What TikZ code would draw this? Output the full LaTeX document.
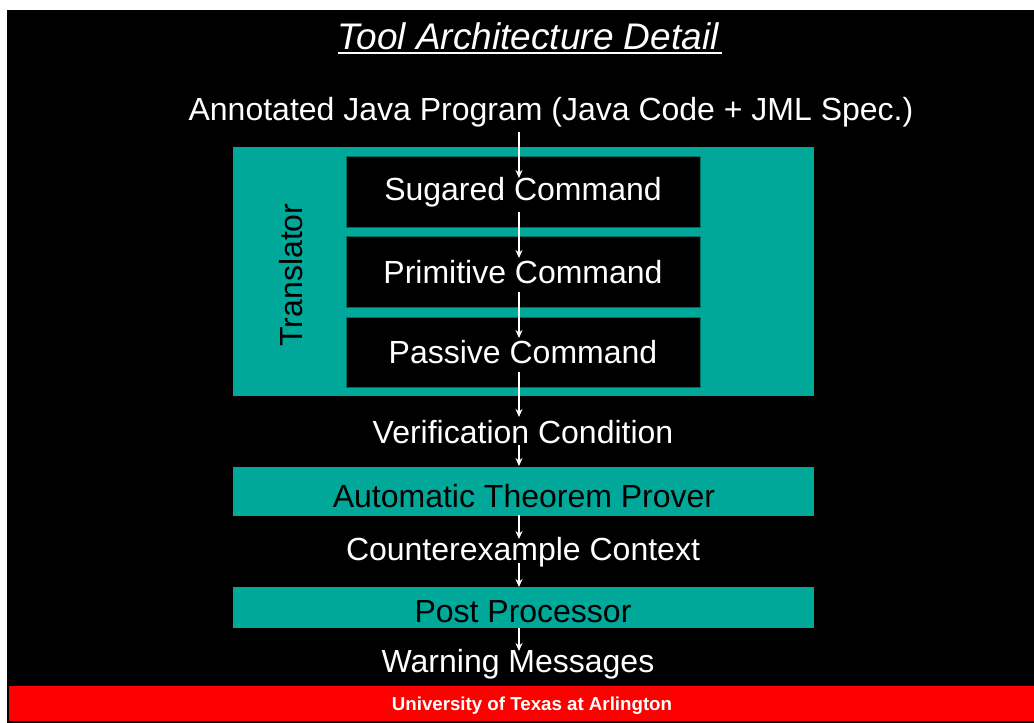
\documentclass[tikz,border=0pt]{standalone}
\usepackage{fontspec}
\setmainfont{Liberation Sans}
\usetikzlibrary{arrows.meta}
\definecolor{tealfill}{RGB}{0,168,154}
\definecolor{tealedge}{RGB}{0,110,100}
\definecolor{barred}{RGB}{255,0,0}
\begin{document}
\begin{tikzpicture}[x=1pt,y=-1pt,
  wtext/.style={text=white,font=\fontsize{32}{36}\selectfont,inner sep=0pt},
  btext/.style={text=black,font=\fontsize{32}{36}\selectfont,inner sep=0pt},
  panel/.style={fill=tealfill,draw=none},
  cmdbox/.style={fill=black,draw=tealedge,line width=0.8pt},
  flow/.style={draw=white,line width=1.2pt,-{Stealth[length=8pt,width=7pt]}}]
  % page and background
  \path[fill=white] (0,0) rectangle (1034,723);
  \useasboundingbox (0,0) rectangle (1034,723);
  \path[fill=black] (7,10) rectangle (1034,723);
  \path[fill=barred] (9,686) rectangle (1034,721);

  % title
  \node[text=white,font=\fontsize{37}{40}\selectfont\itshape,inner sep=0pt] (title) at (528,36) {Tool Architecture Detail};
  \draw[white,line width=2pt] (338,53) -- (722,53);

  \node[wtext] (annot) at (551,112) {Annotated Java Program (Java Code + JML Spec.)};

  % translator panel with the three command stages
  \path[panel] (233,147) rectangle (814,396);
  \node[btext,rotate=90] (transl) at (291,275) {Translator};
  \path[cmdbox] (346,156) rectangle (700,227);
  \path[cmdbox] (346,236) rectangle (700,307);
  \path[cmdbox] (346,317) rectangle (700,387);
  \node[wtext] (sugared) at (523,192) {Sugared Command};
  \node[wtext] (primitive) at (523,272) {Primitive Command};
  \node[wtext] (passive) at (523,352) {Passive Command};

  \node[wtext] (vc) at (523,432) {Verification Condition};

  \path[panel] (233,467) rectangle (814,516);
  \node[btext] (atp) at (524,496) {Automatic Theorem Prover};

  \node[wtext] (cex) at (523,552) {Counterexample Context};

  \path[panel] (233,587) rectangle (814,628);
  \node[btext] (post) at (523,612) {Post Processor};

  \node[wtext] (warn) at (518,664) {Warning Messages};

  \node[text=white,font=\fontsize{18.7}{20}\selectfont\bfseries,inner sep=0pt] (uta) at (532,706) {University of Texas at Arlington};

  % flow arrows
  \coordinate (s1) at (519,132); \coordinate (e1) at (519,178);
  \coordinate (s2) at (519,212); \coordinate (e2) at (519,258);
  \coordinate (s3) at (519,292); \coordinate (e3) at (519,338);
  \coordinate (s4) at (519,372); \coordinate (e4) at (519,417);
  \coordinate (s5) at (519,445); \coordinate (e5) at (519,466);
  \coordinate (s6) at (519,515); \coordinate (e6) at (519,539);
  \coordinate (s7) at (519,563); \coordinate (e7) at (519,587);
  \coordinate (s8) at (519,628); \coordinate (e8) at (519,651);
  \foreach \i in {1,...,8} \draw[flow] (s\i) -- (e\i);
\end{tikzpicture}
\end{document}
